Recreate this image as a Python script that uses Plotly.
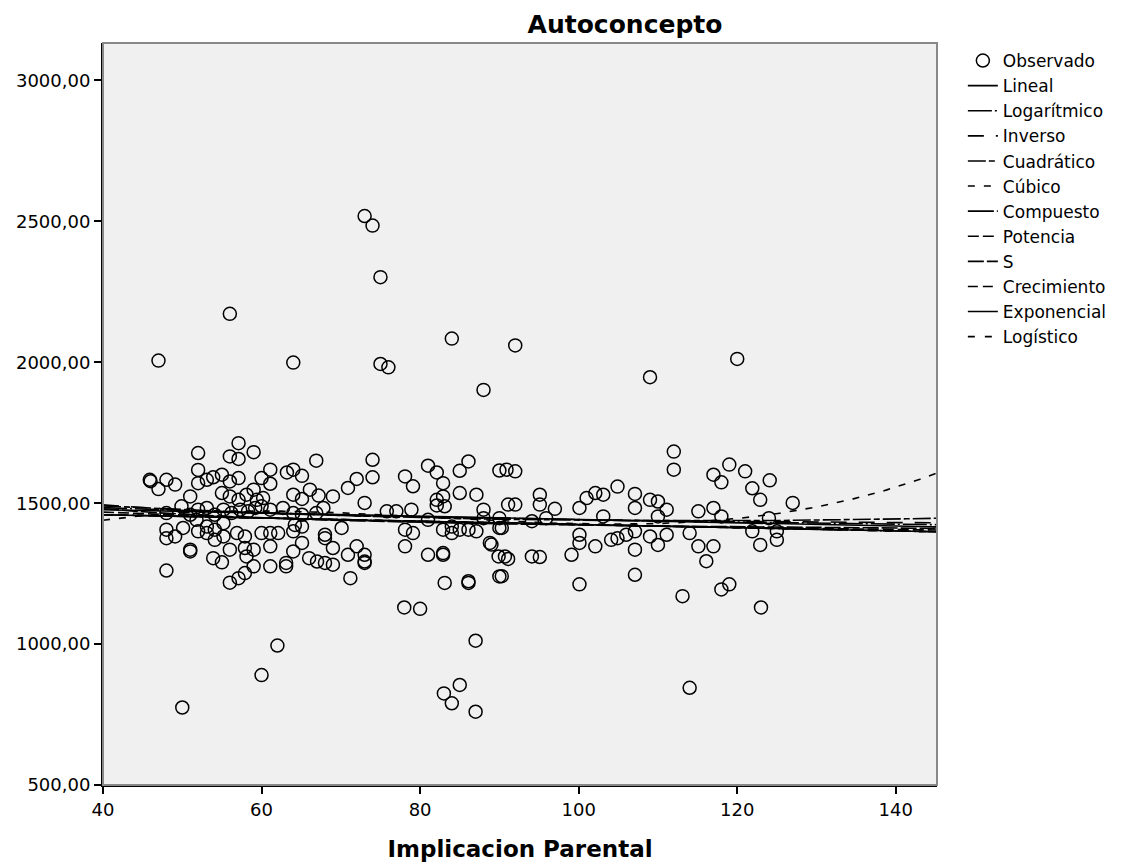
import numpy as np
import plotly.graph_objects as go

# Observed cases: Implicacion Parental (x) vs Autoconcepto (y)
implicacion = [
    47, 56, 64, 73, 74, 75, 75, 76, 84, 92, 88, 109, 120,
    57.1, 52, 56, 57.1, 59, 66.9, 74, 81, 82.1, 86.1, 85, 90,
    45.9, 46, 48, 49.1, 47, 52, 55, 56, 57.1, 61.1, 60, 63.2, 64, 65.1,
    61.1, 59, 51, 52, 53.1, 53.9, 55, 56, 57.1, 58.1, 59.4, 60.2, 64, 65.1,
    66.1, 67.2, 69, 70.9, 72, 74, 73, 78.1, 79.1, 82.9, 82.9, 85, 87.1,
    88, 90, 91.1, 82.1, 83.1, 82.1,
    49.9, 51, 52, 53.1, 54.1, 55.2, 56.2, 57.3, 58.3, 59.2, 60, 61.1, 62.7,
    64, 65.1, 66.9, 67.8, 75.8, 77, 78.9, 48,
    48, 48, 49.1, 50.1, 51, 51, 51.8, 52, 53.1, 53.1, 54.1, 54.1, 55.2, 55.2,
    53.9, 55, 56, 56.9, 57.9, 57.9, 59, 58.1, 59, 57.9, 57.1, 56, 48,
    61.1, 61.1, 60, 61.1, 62.1, 63.1, 63.1, 64, 64, 64.2, 65.1, 65.1, 66,
    67, 68, 69, 68, 68, 69, 70.1, 70.9, 72, 73, 73, 73, 71.2,
    78.1, 79.1, 78.1, 81, 82.9, 82.9, 83.1, 86.1, 86.1, 82.9, 84, 85, 86.1,
    87.1, 84, 88.8, 89, 89.9, 90, 81, 88, 90,
    90.9, 92, 92, 95.1, 95.1, 97, 94.1, 95.9, 90.3, 90.3, 90.7, 91.1, 94.1,
    95.1, 99.1, 100.1, 100.1, 100.1, 100.1, 101, 102.1, 103.1, 102.1, 103.1,
    104.1, 104.9, 106, 107.1, 104.9, 107.1, 107.1, 107.1, 107.1, 109, 109,
    110, 110, 111.1, 111.1, 110, 112, 112, 113.1, 114, 115.1, 115.1, 116.1,
    117, 118, 117, 118, 117, 119, 121, 118, 119, 121.9, 122.9, 124.1, 121.9,
    122.9, 124, 125, 125, 127, 123,
    50, 60, 62, 78, 80, 83, 84, 85, 87, 87, 114,
]
autoconcepto = [
    2006, 2172, 1999, 2519, 2485, 2302, 1994, 1982, 2084, 2060, 1902, 1947, 2012,
    1713, 1678, 1666, 1657, 1681, 1651, 1654, 1633, 1609, 1648, 1615, 1616,
    1583, 1578, 1583, 1566, 1550, 1618, 1601, 1577, 1589, 1619, 1589, 1609, 1619, 1597,
    1569, 1548, 1524, 1571, 1583, 1592, 1536, 1524, 1512, 1530, 1512, 1518, 1530, 1515,
    1548, 1527, 1524, 1554, 1586, 1592, 1501, 1595, 1560, 1571, 1524, 1536, 1530,
    1477, 1412, 1495, 1492, 1489, 1512,
    1489, 1459, 1477, 1483, 1459, 1477, 1465, 1477, 1471, 1483, 1489, 1477, 1483,
    1465, 1459, 1465, 1483, 1471, 1471, 1477, 1465,
    1406, 1376, 1382, 1412, 1335, 1329, 1441, 1400, 1417, 1394, 1406, 1370, 1429, 1382,
    1305, 1290, 1335, 1394, 1382, 1341, 1335, 1311, 1276, 1252, 1234, 1218, 1261,
    1347, 1276, 1394, 1394, 1394, 1288, 1276, 1329, 1400, 1423, 1359, 1417, 1305,
    1293, 1288, 1282, 1388, 1376, 1341, 1412, 1317, 1347, 1317, 1293, 1288, 1234,
    1406, 1394, 1347, 1317, 1323, 1317, 1217, 1223, 1217, 1406, 1394, 1406, 1406,
    1400, 1417, 1359, 1353, 1311, 1240, 1441, 1447, 1447,
    1619, 1613, 1495, 1530, 1495, 1480, 1436, 1447, 1412, 1241, 1311, 1302, 1311,
    1309, 1317, 1388, 1359, 1483, 1212, 1518, 1536, 1530, 1347, 1453,
    1370, 1376, 1388, 1400, 1559, 1533, 1483, 1335, 1246, 1512, 1382,
    1506, 1352, 1477, 1388, 1453, 1683, 1619, 1170, 1394, 1471, 1347, 1294,
    1601, 1574, 1483, 1453, 1347, 1637, 1613, 1194, 1212, 1553, 1512, 1581, 1400,
    1352, 1447, 1400, 1370, 1501, 1130,
    775, 890, 995, 1130, 1125, 825, 790, 855, 760, 1012, 845,
]

x_ticks = [40, 60, 80, 100, 120, 140]
y_ticks = [500, 1000, 1500, 2000, 2500, 3000]
y_tick_labels = ["500,00", "1000,00", "1500,00", "2000,00", "2500,00", "3000,00"]

x_range = [40, 145.2]
y_range = [500, 3133]

x = np.array(implicacion, dtype=float)
y = np.array(autoconcepto, dtype=float)
grid = np.linspace(x_range[0], x_range[1], 300)


def lin(u, v):
    b1, b0 = np.polyfit(u, v, 1)
    return b0, b1


# Curve estimation models
curves = {}
b0, b1 = lin(x, y)
curves["Lineal"] = b0 + b1 * grid
b0, b1 = lin(np.log(x), y)
curves["Logarítmico"] = b0 + b1 * np.log(grid)
b0, b1 = lin(1 / x, y)
curves["Inverso"] = b0 + b1 / grid
curves["Cuadrático"] = np.polyval(np.polyfit(x, y, 2), grid)
curves["Cúbico"] = np.polyval(np.polyfit(x, y, 3), grid)
b0, b1 = lin(x, np.log(y))
curves["Compuesto"] = np.exp(b0 + b1 * grid)
b0p, b1p = lin(np.log(x), np.log(y))
curves["Potencia"] = np.exp(b0p + b1p * np.log(grid))
b0s, b1s = lin(1 / x, np.log(y))
curves["S"] = np.exp(b0s + b1s / grid)
curves["Crecimiento"] = np.exp(b0 + b1 * grid)
curves["Exponencial"] = np.exp(b0 + b1 * grid)
b0l, b1l = lin(x, np.log(1 / y))
curves["Logístico"] = 1 / np.exp(b0l + b1l * grid)

dashes = {
    "Lineal": "solid",
    "Logarítmico": "24px,3px,2px,3px",
    "Inverso": "16px,12px",
    "Cuadrático": "18px,3px,6px,3px",
    "Cúbico": "7px,9px",
    "Compuesto": "26px,3px,2px,3px",
    "Potencia": "11px,4px",
    "S": "16px,3px",
    "Crecimiento": "10px,5px",
    "Exponencial": "solid",
    "Logístico": "7px,10px",
}

font_family = "DejaVu Sans, Liberation Sans, Arial, sans-serif"

fig = go.Figure()
fig.add_trace(go.Scatter(
    x=x, y=y, mode="markers", name="Observado",
    marker=dict(symbol="circle-open", size=13, color="black",
                line=dict(color="black", width=1.5)),
))
for name, vals in curves.items():
    fig.add_trace(go.Scatter(
        x=grid, y=vals, mode="lines", name=name,
        line=dict(color="black", width=1.6, dash=dashes[name]),
    ))

# light grey frame on top and right
fig.add_shape(type="rect", xref="paper", yref="paper", x0=0, y0=0, x1=1, y1=1,
              line=dict(color="#888888", width=2), layer="above")

fig.update_layout(
    width=1130, height=868,
    margin=dict(l=103, r=193, t=43, b=83, autoexpand=False),
    paper_bgcolor="white",
    plot_bgcolor="#F0F0F0",
    font=dict(family=font_family, size=18, color="black"),
    title=dict(text="<b>Autoconcepto</b>", x=(625 / 1130), xanchor="center",
               y=1 - 24 / 868, yanchor="middle",
               font=dict(size=25, family=font_family)),
    showlegend=True,
    legend=dict(x=1.031, xanchor="left", y=1.0, yanchor="top",
                bgcolor="rgba(0,0,0,0)", font=dict(size=17, family=font_family),
                tracegroupgap=0, itemwidth=30),
)
fig.update_xaxes(
    range=x_range, tickvals=x_ticks, ticktext=[str(t) for t in x_ticks],
    showgrid=False, zeroline=False, showline=True, linecolor="black", linewidth=2,
    ticks="outside", ticklen=7, tickwidth=2, tickcolor="black",
    tickfont=dict(size=18),
    title=dict(text="<b>Implicacion Parental</b>", font=dict(size=23), standoff=22),
)
fig.update_yaxes(
    range=y_range, tickvals=y_ticks, ticktext=y_tick_labels,
    showgrid=False, zeroline=False, showline=True, linecolor="black", linewidth=2,
    ticks="outside", ticklen=7, tickwidth=2, tickcolor="black",
    tickfont=dict(size=18),
)

fig.write_html("out.html")
